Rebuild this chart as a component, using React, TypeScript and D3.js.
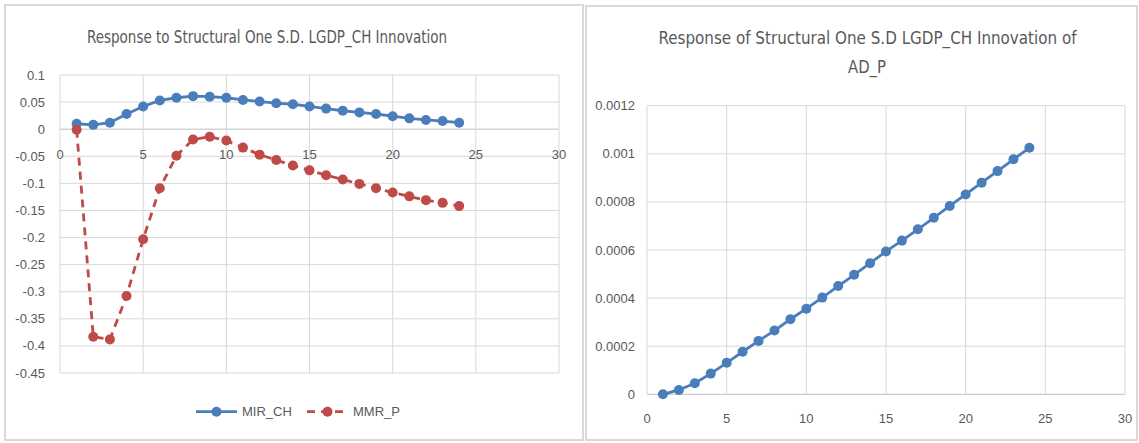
import React, { useEffect, useRef } from 'react';
import * as d3 from 'd3';

// periods 1..24
const periods = d3.range(1, 25);

const mirCh = [
  0.010, 0.008, 0.012, 0.028, 0.042, 0.053, 0.058, 0.061, 0.060, 0.058, 0.054, 0.051,
  0.048, 0.046, 0.042, 0.038, 0.034, 0.031, 0.028, 0.024, 0.020, 0.017, 0.015, 0.012,
];

const mmrP = [
  -0.001, -0.383, -0.388, -0.308, -0.203, -0.109, -0.049, -0.019, -0.014, -0.021, -0.034, -0.047,
  -0.057, -0.067, -0.076, -0.085, -0.093, -0.101, -0.109, -0.117, -0.124, -0.131, -0.136, -0.142,
];

const adP = [
  0.0, 0.000018, 0.000046, 0.000086, 0.000131, 0.000177, 0.000222, 0.000265, 0.000312, 0.000356,
  0.000402, 0.000450, 0.000497, 0.000545, 0.000594, 0.000639, 0.000686, 0.000734, 0.000783,
  0.000831, 0.000880, 0.000928, 0.000977, 0.001025,
];

const xTicks = [0, 5, 10, 15, 20, 25, 30];
const leftYTicks = [0.1, 0.05, 0, -0.05, -0.1, -0.15, -0.2, -0.25, -0.3, -0.35, -0.4, -0.45];
const rightYTicks = [0, 0.0002, 0.0004, 0.0006, 0.0008, 0.001, 0.0012];

const leftTitle = 'Response to Structural One S.D. LGDP_CH Innovation';
const rightTitle = ['Response of Structural One S.D LGDP_CH Innovation of', 'AD_P'];

const BLUE = '#4a7ebb';
const RED = '#be4b48';
const GRID = '#d9d9d9';
const TEXT = '#595959';
const FONT = '"Liberation Sans", Arial, sans-serif';
const TITLE_FONT = '"Liberation Sans Narrow", "DejaVu Sans Condensed", "Liberation Sans", sans-serif';

export default function App() {
  const svgRef = useRef<SVGSVGElement>(null);

  useEffect(() => {
    if (!svgRef.current) return;
    const svg = d3.select(svgRef.current);
    svg.selectAll('*').remove();

    svg.append('rect').attr('width', 1139).attr('height', 443).attr('fill', '#fff');

    // panel frames
    svg.append('rect')
      .attr('x', 5).attr('y', 5).attr('width', 578).attr('height', 435)
      .attr('fill', 'none').attr('stroke', '#d9d9d9').attr('stroke-width', 2);
    svg.append('rect')
      .attr('x', 586).attr('y', 6).attr('width', 551).attr('height', 434)
      .attr('fill', 'none').attr('stroke', '#d9d9d9').attr('stroke-width', 2);

    // ---------- left chart ----------
    const xL = d3.scaleLinear().domain([0, 30]).range([60, 559]);
    const yL = d3.scaleLinear().domain([-0.45, 0.1]).range([373, 75]);
    const gL = svg.append('g');

    leftYTicks.forEach(t => {
      gL.append('line')
        .attr('x1', xL(0)).attr('x2', xL(30))
        .attr('y1', yL(t)).attr('y2', yL(t))
        .attr('stroke', t === 0 ? '#bfbfbf' : GRID).attr('stroke-width', 1);
      gL.append('text')
        .attr('x', 45).attr('y', yL(t))
        .attr('dy', '0.35em').attr('text-anchor', 'end')
        .attr('fill', TEXT).attr('font-size', 13).attr('font-family', FONT)
        .text(String(t));
    });
    xTicks.forEach(t => {
      gL.append('line')
        .attr('x1', xL(t)).attr('x2', xL(t))
        .attr('y1', yL(0.1)).attr('y2', yL(-0.45))
        .attr('stroke', GRID).attr('stroke-width', 1);
      gL.append('text')
        .attr('x', xL(t)).attr('y', yL(0) + 25)
        .attr('dy', '0.35em').attr('text-anchor', 'middle')
        .attr('fill', TEXT).attr('font-size', 13).attr('font-family', FONT)
        .text(String(t));
    });

    const lineL = d3.line<number>().x((_, i) => xL(periods[i]));

    gL.append('path')
      .attr('d', lineL.y(d => yL(d))(mirCh))
      .attr('fill', 'none').attr('stroke', BLUE).attr('stroke-width', 2.8);
    gL.selectAll('.mir')
      .data(mirCh).enter().append('circle')
      .attr('cx', (_, i) => xL(periods[i])).attr('cy', d => yL(d))
      .attr('r', 5).attr('fill', BLUE);

    gL.append('path')
      .attr('d', lineL.y(d => yL(d))(mmrP))
      .attr('fill', 'none').attr('stroke', RED).attr('stroke-width', 2.8)
      .attr('stroke-dasharray', '8,6');
    gL.selectAll('.mmr')
      .data(mmrP).enter().append('circle')
      .attr('cx', (_, i) => xL(periods[i])).attr('cy', d => yL(d))
      .attr('r', 5).attr('fill', RED);

    gL.append('text')
      .attr('x', 267).attr('y', 37).attr('dy', '0.35em')
      .attr('text-anchor', 'middle')
      .attr('fill', TEXT).attr('font-size', 18.5).attr('font-family', TITLE_FONT)
      .attr('textLength', 360).attr('lengthAdjust', 'spacingAndGlyphs')
      .text(leftTitle);

    // legend
    const legY = 411.7;
    gL.append('line').attr('x1', 196).attr('x2', 237).attr('y1', legY).attr('y2', legY)
      .attr('stroke', BLUE).attr('stroke-width', 2.8);
    gL.append('circle').attr('cx', 216.5).attr('cy', legY).attr('r', 5).attr('fill', BLUE);
    gL.append('text').attr('x', 242).attr('y', legY).attr('dy', '0.35em')
      .attr('fill', TEXT).attr('font-size', 13).attr('font-family', FONT)
      .text('MIR_CH');
    gL.append('line').attr('x1', 307).attr('x2', 348).attr('y1', legY).attr('y2', legY)
      .attr('stroke', RED).attr('stroke-width', 2.8).attr('stroke-dasharray', '8,6');
    gL.append('circle').attr('cx', 327.5).attr('cy', legY).attr('r', 5).attr('fill', RED);
    gL.append('text').attr('x', 353).attr('y', legY).attr('dy', '0.35em')
      .attr('fill', TEXT).attr('font-size', 13).attr('font-family', FONT)
      .text('MMR_P');

    // ---------- right chart ----------
    const xR = d3.scaleLinear().domain([0, 30]).range([647, 1125]);
    const yR = d3.scaleLinear().domain([0, 0.0012]).range([394.3, 105.7]);
    const gR = svg.append('g');

    rightYTicks.forEach(t => {
      gR.append('line')
        .attr('x1', xR(0)).attr('x2', xR(30))
        .attr('y1', yR(t)).attr('y2', yR(t))
        .attr('stroke', t === 0 ? '#bfbfbf' : GRID).attr('stroke-width', 1);
      gR.append('text')
        .attr('x', 635).attr('y', yR(t))
        .attr('dy', '0.35em').attr('text-anchor', 'end')
        .attr('fill', TEXT).attr('font-size', 13).attr('font-family', FONT)
        .text(String(t));
    });
    xTicks.forEach(t => {
      gR.append('line')
        .attr('x1', xR(t)).attr('x2', xR(t))
        .attr('y1', yR(0.0012)).attr('y2', yR(0))
        .attr('stroke', GRID).attr('stroke-width', 1);
      gR.append('text')
        .attr('x', xR(t)).attr('y', yR(0) + 24)
        .attr('dy', '0.35em').attr('text-anchor', 'middle')
        .attr('fill', TEXT).attr('font-size', 13).attr('font-family', FONT)
        .text(String(t));
    });

    const lineR = d3.line<number>().x((_, i) => xR(periods[i])).y(d => yR(d));
    gR.append('path')
      .attr('d', lineR(adP))
      .attr('fill', 'none').attr('stroke', BLUE).attr('stroke-width', 2.8);
    gR.selectAll('.adp')
      .data(adP).enter().append('circle')
      .attr('cx', (_, i) => xR(periods[i])).attr('cy', d => yR(d))
      .attr('r', 5).attr('fill', BLUE);

    gR.append('text')
      .attr('x', 867.5).attr('y', 38).attr('dy', '0.35em')
      .attr('text-anchor', 'middle')
      .attr('fill', TEXT).attr('font-size', 18.5).attr('font-family', TITLE_FONT)
      .attr('textLength', 418).attr('lengthAdjust', 'spacingAndGlyphs')
      .text(rightTitle[0]);
    gR.append('text')
      .attr('x', 867).attr('y', 67).attr('dy', '0.35em')
      .attr('text-anchor', 'middle')
      .attr('fill', TEXT).attr('font-size', 18.5).attr('font-family', TITLE_FONT)
      .attr('textLength', 38).attr('lengthAdjust', 'spacingAndGlyphs')
      .text(rightTitle[1]);
  }, []);

  return (
    <svg
      ref={svgRef}
      width={1139}
      height={443}
      style={{ position: 'absolute', left: 0, top: 0 }}
    />
  );
}
